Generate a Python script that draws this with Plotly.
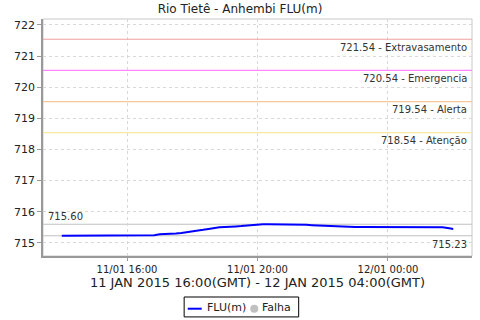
import plotly.graph_objects as go
import pandas as pd

# Data: FLU(m) readings every 10 minutes
start_time = "2015-01-11 14:00"
flu_values = [
    715.23, 715.23, 715.23, 715.23, 715.25, 715.25, 715.25, 715.25, 715.25, 715.25,
    715.25, 715.25, 715.25, 715.25, 715.25, 715.25, 715.25, 715.25, 715.28, 715.28,
    715.28, 715.30, 715.32, 715.34, 715.37, 715.39, 715.42, 715.45, 715.48, 715.50,
    715.51, 715.53, 715.53, 715.54, 715.56, 715.57, 715.58, 715.60, 715.60, 715.60,
    715.60, 715.60, 715.60, 715.60, 715.60, 715.58, 715.57, 715.56, 715.55, 715.54,
    715.53, 715.52, 715.51, 715.51, 715.51, 715.51, 715.51, 715.51, 715.51, 715.51,
    715.51, 715.51, 715.51, 715.51, 715.51, 715.51, 715.51, 715.51, 715.51, 715.51,
    715.50, 715.48, 715.45,
]
times = pd.date_range(start_time, periods=len(flu_values), freq="10min")

threshold_values = [721.54, 720.54, 719.54, 718.54]
threshold_names = ["Extravasamento", "Emergencia", "Alerta", "Atenção"]
threshold_colors = ["#f0a0a0", "#ff88ff", "#f5c89a", "#f8e8a0"]

max_value = 715.60
min_value = 715.23

legend_names = ["FLU(m)", "Falha"]
series_color = "#0000ff"
falha_color = "#c0c0c0"

y_ticks = [715, 716, 717, 718, 719, 720, 721, 722]
x_range = ["2015-01-11 13:25:30", "2015-01-12 02:34:30"]
y_range = [714.58, 722.19]

FONT = "DejaVu Sans"

fig = go.Figure()
fig.add_trace(go.Scatter(
    x=times, y=flu_values, mode="lines", name=legend_names[0],
    line=dict(color=series_color, width=2),
))
fig.add_trace(go.Scatter(
    x=[None], y=[None], mode="markers", name=legend_names[1],
    marker=dict(color=falha_color, size=8),
))

shapes = []
annotations = []
for v, n, c in zip(threshold_values, threshold_names, threshold_colors):
    shapes.append(dict(type="line", xref="paper", x0=0, x1=1, yref="y", y0=v, y1=v,
                       line=dict(color=c, width=1.2), layer="above"))
    annotations.append(dict(xref="paper", x=0.992, yref="y", y=v, yshift=-8,
                            text=f"{v:.2f} - {n}", showarrow=False,
                            xanchor="right", yanchor="middle",
                            font=dict(family=FONT, size=10, color="#333333")))

for v in (max_value, min_value):
    shapes.append(dict(type="line", xref="paper", x0=0, x1=1, yref="y", y0=v, y1=v,
                       line=dict(color="#c0c0c0", width=1.2), layer="below"))
annotations.append(dict(xref="paper", x=0.007, yref="y", y=max_value, yshift=8,
                        text=f"{max_value:.2f}", showarrow=False,
                        xanchor="left", yanchor="middle",
                        font=dict(family=FONT, size=10, color="#333333")))
annotations.append(dict(xref="paper", x=0.992, yref="y", y=min_value, yshift=-9,
                        text=f"{min_value:.2f}", showarrow=False,
                        xanchor="right", yanchor="middle",
                        font=dict(family=FONT, size=10, color="#333333")))

# light border around plot
shapes.append(dict(type="rect", xref="paper", yref="paper", x0=0, x1=1, y0=0, y1=1,
                   line=dict(color="#c8c8c8", width=1), layer="below"))

# Legend (drawn below the axis title, boxed)
shapes.append(dict(type="rect", xref="paper", yref="paper", x0=0.329, x1=0.596,
                   y0=-0.257, y1=-0.173, line=dict(color="#000000", width=1),
                   fillcolor="white", layer="above"))
shapes.append(dict(type="line", xref="paper", yref="paper", x0=0.3373, x1=0.3700,
                   y0=-0.2224, y1=-0.2224, line=dict(color=series_color, width=2)))
shapes.append(dict(type="circle", xref="paper", yref="paper",
                   x0=0.4925 - 0.0093, x1=0.4925 + 0.0093,
                   y0=-0.2224 - 0.0169, y1=-0.2224 + 0.0169,
                   fillcolor=falha_color, line=dict(width=0)))
annotations.append(dict(xref="paper", yref="paper", x=0.378, y=-0.217,
                        text=legend_names[0], showarrow=False,
                        xanchor="left", yanchor="middle",
                        font=dict(family=FONT, size=11, color="#222222")))
annotations.append(dict(xref="paper", yref="paper", x=0.506, y=-0.217,
                        text=legend_names[1], showarrow=False,
                        xanchor="left", yanchor="middle",
                        font=dict(family=FONT, size=11, color="#222222")))

fig.update_layout(
    width=480, height=320,
    margin=dict(l=43, r=8, t=19, b=64, autoexpand=False),
    paper_bgcolor="white", plot_bgcolor="white",
    title=dict(text="Rio Tietê - Anhembi FLU(m)", x=0.5, xanchor="center",
               y=0.972, yanchor="middle",
               font=dict(family=FONT, size=12, color="#222222")),
    font=dict(family=FONT, color="#222222"),
    showlegend=False,
    shapes=shapes,
    annotations=annotations,
    xaxis=dict(
        range=x_range, type="date",
        tick0="2015-01-11 16:00", dtick=4 * 3600 * 1000,
        tickformat="%d/%m %H:%M",
        tickfont=dict(family=FONT, size=10, color="#222222"),
        showgrid=True, gridcolor="#d8d8d8", griddash="3px,3px", gridwidth=1,
        showline=True, linecolor="#999999", linewidth=1.5,
        ticks="outside", ticklen=3, tickcolor="#999999",
        title=dict(text="11 JAN 2015 16:00(GMT) - 12 JAN 2015 04:00(GMT)",
                   font=dict(family=FONT, size=13, color="#222222"), standoff=2),
        zeroline=False, fixedrange=True,
    ),
    yaxis=dict(
        range=y_range, tickvals=y_ticks,
        tickfont=dict(family=FONT, size=11, color="#222222"),
        showgrid=True, gridcolor="#d8d8d8", griddash="3px,3px", gridwidth=1,
        showline=True, linecolor="#999999", linewidth=1.5,
        ticks="outside", ticklen=4, tickcolor="#999999",
        zeroline=False, fixedrange=True,
    ),
)

fig.write_html("out.html")
